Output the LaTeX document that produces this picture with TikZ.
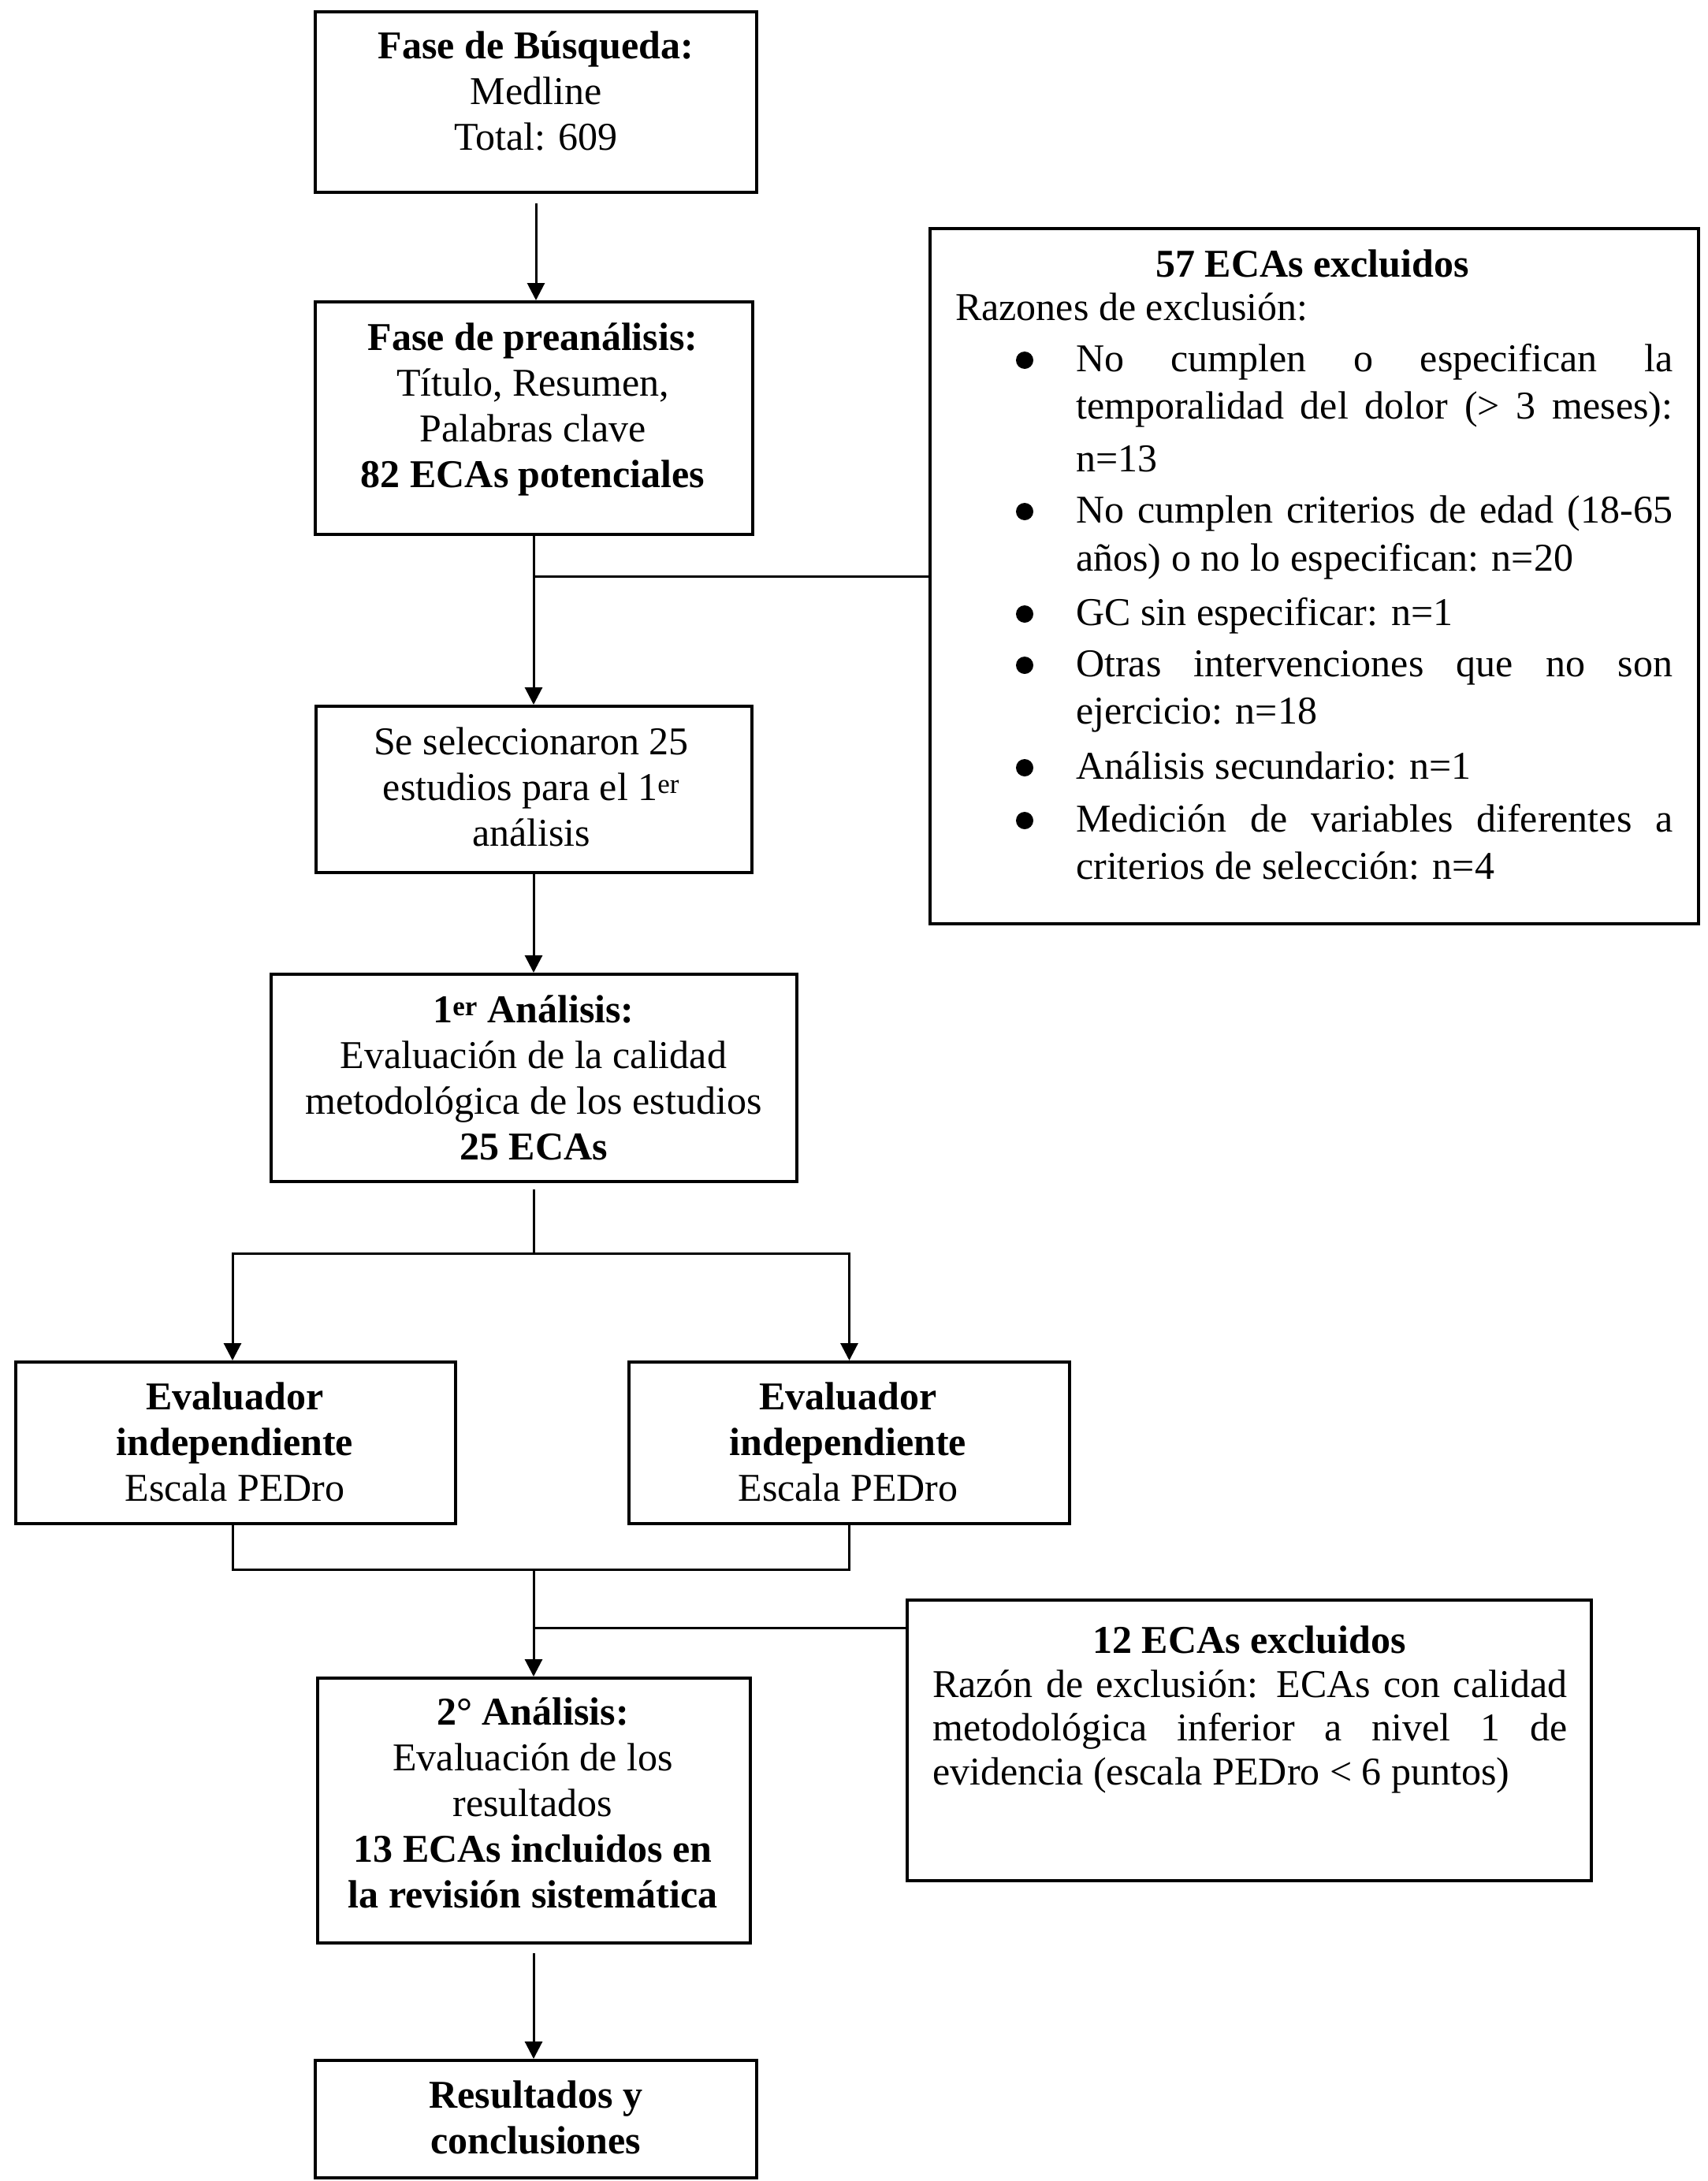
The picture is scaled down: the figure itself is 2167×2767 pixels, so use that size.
\documentclass[tikz,border=0pt]{standalone}
\usepackage{fontspec}
\setmainfont{Liberation Serif}
\usetikzlibrary{arrows.meta}
\newcommand\fstrut{\rule{0pt}{46pt}}
\newcommand\jl[2]{\makebox[#1][s]{#2}}
\begin{document}
\begin{tikzpicture}[x=1pt,y=-1pt,
  boxn/.style={draw, line width=4pt, inner sep=0pt, anchor=north},
  boxw/.style={draw, line width=4pt, inner sep=0pt, anchor=north west},
  txt/.style={font=\fontsize{50}{58}\selectfont, align=center, inner sep=0pt, anchor=north},
  ltxt/.style={font=\fontsize{50}{58}\selectfont, inner sep=0pt, anchor=base west},
  ctxt/.style={font=\fontsize{50}{58}\selectfont\bfseries, inner sep=0pt, anchor=base},
  bul/.style={circle, fill=black, minimum size=22pt, inner sep=0pt},
  conn/.style={line width=3pt},
  arr/.style={line width=3pt, -{Triangle[length=22pt,width=22pt]}}]
\useasboundingbox (0,0) rectangle (2167,2767);

% central boxes
\node[boxn, minimum width=560pt, minimum height=229pt] (b1) at (680,13) {};
\node[boxn, minimum width=555pt, minimum height=295pt] (b2) at (677,381) {};
\node[boxn, minimum width=553pt, minimum height=211pt] (b3) at (677,894) {};
\node[boxn, minimum width=667pt, minimum height=263pt] (b4) at (677,1234) {};
\node[boxw, minimum width=558pt, minimum height=205pt] (e1) at (18,1726) {};
\node[boxw, minimum width=559pt, minimum height=205pt] (e2) at (796,1726) {};
\node[boxn, minimum width=549pt, minimum height=336pt] (b5) at (677,2127) {};
\node[boxn, minimum width=560pt, minimum height=149pt] (b6) at (680,2612) {};
\node[boxw, minimum width=975pt, minimum height=882pt] (x1) at (1178,288) {};
\node[boxw, minimum width=868pt, minimum height=356pt] (x2) at (1149,2028) {};

% texts of central boxes
\node[txt] (t1) at (680,28) {\fstrut\textbf{Fase de Búsqueda:}\\Medline\\Total: 609};
\node[txt] (t2) at (676,398) {\fstrut\textbf{Fase de preanálisis:}\\Título, Resumen,\\Palabras clave\\\textbf{82 ECAs potenciales}};
\node[txt] (t3) at (674,911) {\fstrut Se seleccionaron 25\\estudios para el 1\textsuperscript{er}\\análisis};
\node[txt] (t4) at (677,1251) {\fstrut\textbf{1\textsuperscript{er} Análisis:}\\Evaluación de la calidad\\metodológica de los estudios\\\textbf{25 ECAs}};
\node[txt] (te1) at (298,1742) {\fstrut\textbf{Evaluador}\\\textbf{independiente}\\Escala PEDro};
\node[txt] (te2) at (1076,1742) {\fstrut\textbf{Evaluador}\\\textbf{independiente}\\Escala PEDro};
\node[txt] (t5) at (676,2142) {\fstrut\textbf{2° Análisis:}\\Evaluación de los\\resultados\\\textbf{13 ECAs incluidos en}\\\textbf{la revisión sistemática}};
\node[txt] (t6) at (680,2628) {\fstrut\textbf{Resultados y}\\\textbf{conclusiones}};

% exclusion box 1
\node[ctxt] (xh) at (1665,351) {57 ECAs excluidos};
\node[ltxt] (xr) at (1212,406) {Razones de exclusión:};
\node[ltxt] (xa1) at (1365,471) {\jl{757pt}{No cumplen o especifican la}};
\node[ltxt] (xa2) at (1365,531) {\jl{757pt}{temporalidad del dolor (> 3 meses):}};
\node[ltxt] (xa3) at (1365,598) {n=13};
\node[ltxt] (xb1) at (1365,663) {\jl{757pt}{No cumplen criterios de edad (18-65}};
\node[ltxt] (xb2) at (1365,724) {años) o no lo especifican: n=20};
\node[ltxt] (xc1) at (1365,793) {GC sin especificar: n=1};
\node[ltxt] (xd1) at (1365,858) {\jl{757pt}{Otras intervenciones que no son}};
\node[ltxt] (xd2) at (1365,918) {ejercicio: n=18};
\node[ltxt] (xe1) at (1365,988) {Análisis secundario: n=1};
\node[ltxt] (xf1) at (1365,1055) {\jl{757pt}{Medición de variables diferentes a}};
\node[ltxt] (xf2) at (1365,1115) {criterios de selección: n=4};
\node[bul] (u1) at (1300,457) {};
\node[bul] (u2) at (1300,649) {};
\node[bul] (u3) at (1300,779) {};
\node[bul] (u4) at (1300,844) {};
\node[bul] (u5) at (1300,974) {};
\node[bul] (u6) at (1300,1041) {};

% exclusion box 2
\node[ctxt] (yh) at (1585,2097) {12 ECAs excluidos};
\node[ltxt] (ya) at (1183,2153) {\jl{805pt}{Razón de exclusión: ECAs con calidad}};
\node[ltxt] (yb) at (1183,2208) {\jl{805pt}{metodológica inferior a nivel 1 de}};
\node[ltxt] (yc) at (1183,2264) {evidencia (escala PEDro < 6 puntos)};

% connectors
\draw[arr, shorten <=12pt] (b1.south) -- (b1.south |- b2.north);
\draw[arr] (b2.south) -- (b3.north);
\coordinate (j1) at (677,731);
\draw[conn] (j1) -- (j1 -| x1.west);
\draw[arr] (b3.south) -- (b4.north);
\coordinate (s1) at (677,1590);
\draw[conn, shorten <=8pt] (b4.south) -- (s1);
\draw[arr] (s1) -| ([xshift=-4pt]e1.north);
\draw[arr] (s1) -| (e2.north);
\coordinate (s2) at (677,1991);
\draw[conn] ([xshift=-4pt]e1.south) -- ([xshift=-4pt]e1.south |- s2) -- (e2.south |- s2) -- (e2.south);
\draw[arr] (s2) -- (b5.north);
\coordinate (s3) at (677,2065);
\draw[conn] (s3) -- (s3 -| x2.west);
\draw[arr, shorten <=11pt] (b5.south) -- (b5.south |- b6.north);
\end{tikzpicture}
\end{document}
